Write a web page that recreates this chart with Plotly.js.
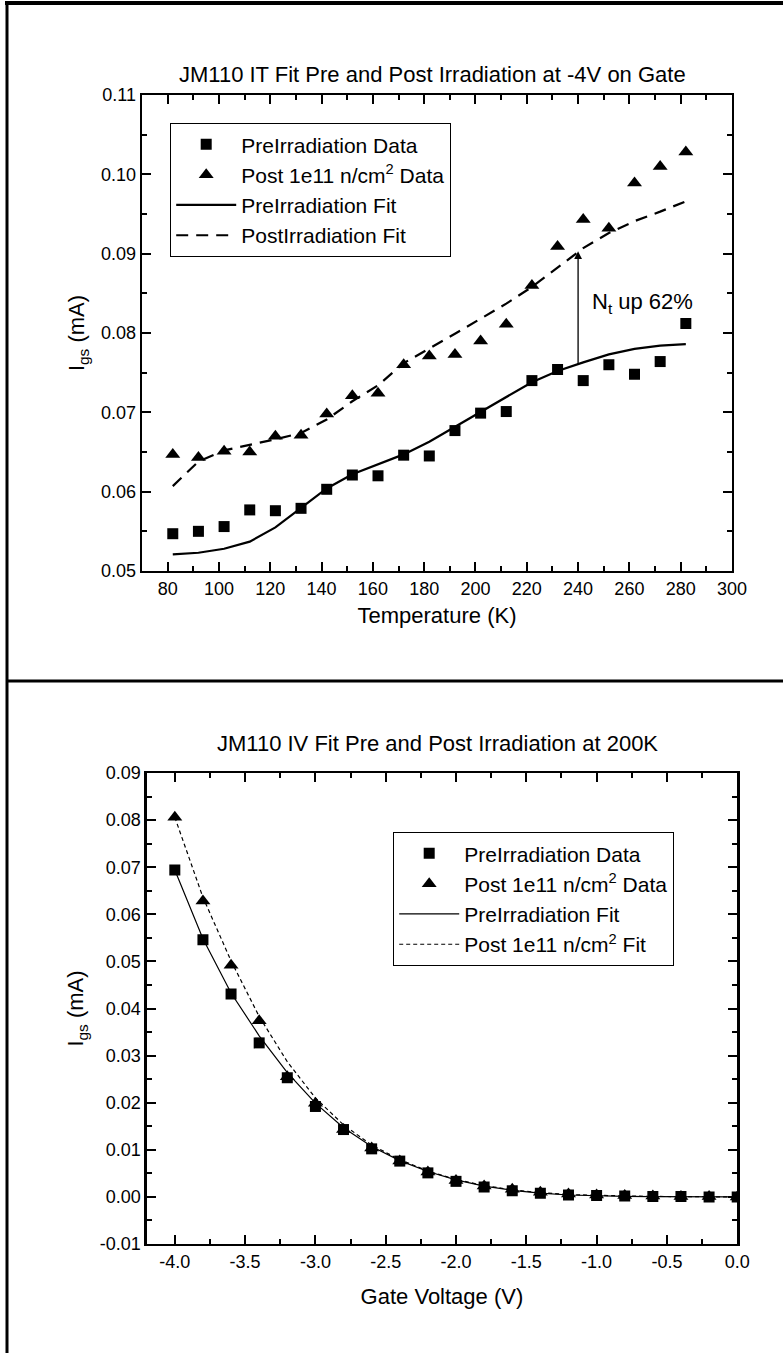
<!DOCTYPE html>
<html>
<head>
<meta charset="utf-8">
<script src="https://cdn.plot.ly/plotly-3.0.1.min.js"></script>
<style>html,body{margin:0;padding:0;background:#fff;}#chart{width:783px;height:1353px;}</style>
</head>
<body>
<div id="chart"></div>
<script>
// ---- Top chart: current vs temperature at -4V ----
const temperatureK = [82, 92, 102, 112, 122, 132, 142, 152, 162, 172, 182, 192, 202, 212, 222, 232, 242, 252, 262, 272, 282];
const preIrrData = [0.0547, 0.0550, 0.0556, 0.0577, 0.0576, 0.0579, 0.0603, 0.0621, 0.0620, 0.0646, 0.0645, 0.0677, 0.0699, 0.0701, 0.0740, 0.0754, 0.0740, 0.0760, 0.0748, 0.0764, 0.0812];
const postIrrData = [0.0647, 0.0643, 0.0651, 0.0650, 0.0670, 0.0671, 0.0698, 0.0721, 0.0724, 0.0760, 0.0771, 0.0773, 0.0790, 0.0811, 0.0860, 0.0909, 0.0943, 0.0932, 0.0989, 0.1010, 0.1028];
const preIrrFit = [0.0521, 0.0523, 0.0528, 0.0537, 0.0555, 0.0580, 0.0604, 0.0622, 0.0634, 0.0647, 0.0663, 0.0682, 0.0701, 0.0719, 0.0738, 0.0752, 0.0763, 0.0773, 0.0780, 0.0784, 0.0786];
const postIrrFit = [0.0607, 0.0638, 0.0652, 0.0659, 0.0666, 0.0674, 0.0691, 0.0714, 0.0734, 0.0762, 0.0780, 0.0799, 0.0818, 0.0837, 0.0858, 0.0883, 0.0907, 0.0926, 0.0941, 0.0953, 0.0966];
const arrowT = 240;
const arrowFrom = 0.0759;
const arrowTo = 0.0903;
const noteT = 265;
const noteI = 0.0838;

// ---- Bottom chart: current vs gate voltage at 200K ----
const gateVoltage = [-4.0, -3.8, -3.6, -3.4, -3.2, -3.0, -2.8, -2.6, -2.4, -2.2, -2.0, -1.8, -1.6, -1.4, -1.2, -1.0, -0.8, -0.6, -0.4, -0.2, 0.0];
const ivPreData = [0.0694, 0.0546, 0.0431, 0.0327, 0.0253, 0.0192, 0.0143, 0.0102, 0.0076, 0.0051, 0.0033, 0.0021, 0.0013, 0.0008, 0.0004, 0.0003, 0.0002, 0.0001, 0.0001, 0.0000, 0.0000];
const ivPostData = [0.0806, 0.0628, 0.0492, 0.0374, 0.0255, 0.0199, 0.0143, 0.0104, 0.0076, 0.0053, 0.0035, 0.0023, 0.0016, 0.0010, 0.0006, 0.0004, 0.0003, 0.0002, 0.0001, 0.0001, 0.0000];
const ivPreFit = [0.0694, 0.0548, 0.0433, 0.0342, 0.0264, 0.0199, 0.0147, 0.0107, 0.0077, 0.0054, 0.0036, 0.0023, 0.0014, 0.0008, 0.0004, 0.0002, 0.0001, 0.00005, 0.00002, 0.00001, 0.0];
const ivPostFit = [0.0806, 0.0636, 0.0501, 0.0383, 0.0287, 0.0210, 0.0153, 0.0110, 0.0079, 0.0055, 0.0037, 0.0024, 0.0015, 0.0009, 0.0005, 0.0003, 0.0002, 0.0001, 0.00005, 0.00002, 0.0];

// ---- Tick labels (hyphen minus as in the original) ----
const voltTickVals = [-4.0, -3.5, -3.0, -2.5, -2.0, -1.5, -1.0, -0.5, 0.0];
const voltTickText = ['-4.0', '-3.5', '-3.0', '-2.5', '-2.0', '-1.5', '-1.0', '-0.5', '0.0'];
const ivTickVals = [-0.01, 0.00, 0.01, 0.02, 0.03, 0.04, 0.05, 0.06, 0.07, 0.08, 0.09];
const ivTickText = ['-0.01', '0.00', '0.01', '0.02', '0.03', '0.04', '0.05', '0.06', '0.07', '0.08', '0.09'];

const W = 783, H = 1353;
const FONT = 'Liberation Sans, Arial, sans-serif';
const px = v => v / W;
const py = v => 1 - v / H;

const traces = [
  {x: temperatureK, y: preIrrFit, mode: 'lines', name: 'PreIrradiation Fit', line: {color: '#000', width: 2.2}, xaxis: 'x', yaxis: 'y', legend: 'legend', legendrank: 3},
  {x: temperatureK, y: postIrrFit, mode: 'lines', name: 'PostIrradiation Fit', line: {color: '#000', width: 2.2, dash: '12px,8px'}, xaxis: 'x', yaxis: 'y', legend: 'legend', legendrank: 4},
  {x: temperatureK, y: preIrrData, mode: 'markers', name: 'PreIrradiation Data', marker: {symbol: 'square', size: 11, color: '#000'}, xaxis: 'x', yaxis: 'y', legend: 'legend', legendrank: 1},
  {x: temperatureK, y: postIrrData, mode: 'markers', name: 'Post 1e11 n/cm<sup>2</sup> Data', marker: {symbol: 'triangle-up', size: 13, color: '#000'}, xaxis: 'x', yaxis: 'y', legend: 'legend', legendrank: 2},

  {x: gateVoltage, y: ivPreFit, mode: 'lines', name: 'PreIrradiation Fit', line: {color: '#000', width: 1.2}, xaxis: 'x2', yaxis: 'y2', legend: 'legend2', legendrank: 3},
  {x: gateVoltage, y: ivPostFit, mode: 'lines', name: 'Post 1e11 n/cm<sup>2</sup> Fit', line: {color: '#000', width: 1.2, dash: '4px,3px'}, xaxis: 'x2', yaxis: 'y2', legend: 'legend2', legendrank: 4},
  {x: gateVoltage, y: ivPreData, mode: 'markers', name: 'PreIrradiation Data', marker: {symbol: 'square', size: 11, color: '#000'}, xaxis: 'x2', yaxis: 'y2', legend: 'legend2', legendrank: 1},
  {x: gateVoltage, y: ivPostData, mode: 'markers', name: 'Post 1e11 n/cm<sup>2</sup> Data', marker: {symbol: 'triangle-up', size: 13, color: '#000'}, xaxis: 'x2', yaxis: 'y2', legend: 'legend2', legendrank: 2}
];

const axisCommon = {
  showline: true, linecolor: '#000', linewidth: 2.4, mirror: 'allticks',
  ticks: 'inside', ticklen: 9, tickwidth: 2, tickcolor: '#000',
  showgrid: false, zeroline: false,
  tickfont: {family: FONT, size: 18, color: '#000'}
};
const minorCommon = {ticks: 'inside', ticklen: 5, tickwidth: 2, tickcolor: '#000'};

const layout = {
  width: W, height: H,
  margin: {l: 0, r: 0, t: 0, b: 0},
  paper_bgcolor: '#fff', plot_bgcolor: '#fff',
  font: {family: FONT, color: '#000'},
  showlegend: true,
  xaxis: Object.assign({}, axisCommon, {
    domain: [px(142), px(732)], range: [70, 300], tickmode: 'linear', tick0: 80, dtick: 20,
    minor: Object.assign({}, minorCommon, {dtick: 10, tick0: 80}),
    anchor: 'y',
    title: {text: 'Temperature (K)', font: {family: FONT, size: 22}, standoff: 10}
  }),
  yaxis: Object.assign({}, axisCommon, {
    domain: [py(571), py(95)], range: [0.05, 0.11], tickmode: 'linear', tick0: 0.05, dtick: 0.01, tickformat: '.2f',
    minor: Object.assign({}, minorCommon, {dtick: 0.005}),
    anchor: 'x',
    title: {text: 'I<sub>gs</sub> (mA)', font: {family: FONT, size: 22}, standoff: 10}
  }),
  xaxis2: Object.assign({}, axisCommon, {
    domain: [px(146.7), px(737.2)], range: [-4.2, 0], tickmode: 'array', tickvals: voltTickVals, ticktext: voltTickText,
    minor: Object.assign({}, minorCommon, {tickmode: 'linear', tick0: -4, dtick: 0.25}),
    anchor: 'y2',
    title: {text: 'Gate Voltage (V)', font: {family: FONT, size: 22}, standoff: 18}
  }),
  yaxis2: Object.assign({}, axisCommon, {
    domain: [py(1244), py(773)], range: [-0.01, 0.09], tickmode: 'array', tickvals: ivTickVals, ticktext: ivTickText,
    minor: Object.assign({}, minorCommon, {tickmode: 'linear', tick0: 0, dtick: 0.005}),
    anchor: 'x2',
    title: {text: 'I<sub>gs</sub> (mA)', font: {family: FONT, size: 22}, standoff: 10}
  }),
  legend: {
    x: px(170), y: py(123), xanchor: 'left', yanchor: 'top',
    bgcolor: '#fff', bordercolor: '#000', borderwidth: 1.2,
    font: {family: FONT, size: 21, color: '#000'}, itemwidth: 60, tracegroupgap: 0
  },
  legend2: {
    x: px(393), y: py(832), xanchor: 'left', yanchor: 'top',
    bgcolor: '#fff', bordercolor: '#000', borderwidth: 1.2,
    font: {family: FONT, size: 21, color: '#000'}, itemwidth: 60, tracegroupgap: 0
  },
  annotations: [
    {xref: 'paper', yref: 'paper', x: px(432), y: py(75), xanchor: 'center', yanchor: 'middle', showarrow: false,
     text: 'JM110 IT Fit Pre and Post Irradiation at -4V on Gate', font: {family: FONT, size: 22, color: '#000'}},
    {xref: 'paper', yref: 'paper', x: px(438), y: py(743), xanchor: 'center', yanchor: 'middle', showarrow: false,
     text: 'JM110 IV Fit Pre and Post Irradiation at 200K', font: {family: FONT, size: 22, color: '#000'}},
    {xref: 'x', yref: 'y', x: arrowT, y: arrowTo, axref: 'x', ayref: 'y', ax: arrowT, ay: arrowFrom,
     showarrow: true, arrowhead: 2, arrowsize: 1.2, arrowwidth: 1.3, arrowcolor: '#000', text: '', standoff: 0},
    {xref: 'x', yref: 'y', x: noteT, y: noteI, xanchor: 'center', yanchor: 'middle', showarrow: false,
     text: 'N<sub>t</sub> up 62%', font: {family: FONT, size: 22, color: '#000'}}
  ],
  shapes: [
    {type: 'line', xref: 'paper', yref: 'paper', x0: px(5), x1: 1, y0: py(3), y1: py(3), line: {color: '#000', width: 4}},
    {type: 'line', xref: 'paper', yref: 'paper', x0: px(7), x1: px(7), y0: 0, y1: py(1), line: {color: '#000', width: 3}},
    {type: 'line', xref: 'paper', yref: 'paper', x0: px(7), x1: 1, y0: py(681), y1: py(681), line: {color: '#000', width: 3}}
  ]
};

Plotly.newPlot('chart', traces, layout, {displayModeBar: false, staticPlot: true});
</script>
</body>
</html>
